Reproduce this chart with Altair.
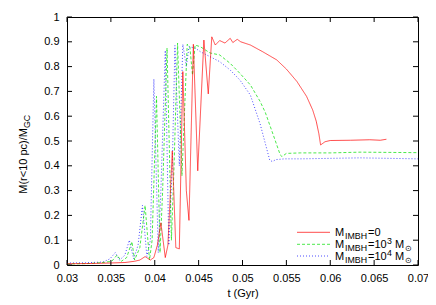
import altair as alt
import pandas as pd

# ---------------- data ----------------
t_red = [0.0300, 0.0326, 0.0349, 0.0366, 0.0377, 0.0383, 0.0389, 0.0395, 0.0399, 0.0403,
         0.0407, 0.0412, 0.0415, 0.0420, 0.0424, 0.0428, 0.0432, 0.0436, 0.0439, 0.0444,
         0.0449, 0.0456, 0.0461, 0.0465, 0.0469, 0.0474, 0.0480, 0.0486, 0.0489, 0.0494,
         0.0498, 0.0509, 0.0523, 0.0539, 0.0550, 0.0562, 0.0573, 0.0580, 0.0584, 0.0587,
         0.0589, 0.0594, 0.0600, 0.0623, 0.0645, 0.0657, 0.0664]
v_red = [0.005, 0.006, 0.008, 0.010, 0.015, 0.020, 0.034, 0.020, 0.030, 0.080,
         0.170, 0.030, 0.080, 0.460, 0.070, 0.065, 0.780, 0.300, 0.180, 0.890,
         0.380, 0.907, 0.690, 0.920, 0.887, 0.905, 0.895, 0.914, 0.897, 0.910,
         0.900, 0.887, 0.860, 0.827, 0.790, 0.740, 0.680, 0.625, 0.580, 0.530,
         0.484, 0.497, 0.502, 0.503, 0.505, 0.503, 0.507]

t_green = [0.0300, 0.0326, 0.0341, 0.0351, 0.0357, 0.0362, 0.0368, 0.0374, 0.0377, 0.0383,
           0.0389, 0.0394, 0.0397, 0.0402, 0.0406, 0.0409, 0.0414, 0.0419, 0.0422, 0.0426,
           0.0431, 0.0437, 0.0440, 0.0443, 0.0446, 0.0452, 0.0463, 0.0474, 0.0486, 0.0497,
           0.0509, 0.0520, 0.0526, 0.0531, 0.0537, 0.0543, 0.0545, 0.0550, 0.0566, 0.0600,
           0.0634, 0.0668, 0.0700]
v_green = [0.004, 0.006, 0.010, 0.015, 0.040, 0.015, 0.030, 0.094, 0.020, 0.070,
           0.240, 0.020, 0.100, 0.680, 0.050, 0.300, 0.875, 0.100, 0.400, 0.895,
           0.360, 0.890, 0.880, 0.766, 0.887, 0.880, 0.855, 0.847, 0.813, 0.773,
           0.726, 0.660, 0.615, 0.565, 0.505, 0.444, 0.437, 0.450, 0.452, 0.452,
           0.455, 0.454, 0.453]

t_blue = [0.0300, 0.0321, 0.0341, 0.0349, 0.0355, 0.0360, 0.0366, 0.0371, 0.0376, 0.0381,
          0.0386, 0.0391, 0.0395, 0.0399, 0.0404, 0.0407, 0.0412, 0.0416, 0.0420, 0.0423,
          0.0428, 0.0432, 0.0436, 0.0439, 0.0446, 0.0452, 0.0463, 0.0474, 0.0486, 0.0497,
          0.0509, 0.0514, 0.0520, 0.0526, 0.0531, 0.0534, 0.0538, 0.0548, 0.0566, 0.0600,
          0.0634, 0.0668, 0.0700]
v_blue = [0.008, 0.009, 0.012, 0.025, 0.050, 0.020, 0.040, 0.100, 0.025, 0.080,
          0.240, 0.035, 0.100, 0.750, 0.050, 0.300, 0.865, 0.080, 0.400, 0.885,
          0.400, 0.890, 0.800, 0.880, 0.875, 0.860, 0.840, 0.820, 0.786, 0.746,
          0.685, 0.633, 0.570, 0.490, 0.423, 0.417, 0.425, 0.428, 0.428, 0.430,
          0.432, 0.430, 0.428]

x_ticks = [0.03, 0.035, 0.04, 0.045, 0.05, 0.055, 0.06, 0.065, 0.07]
y_ticks = [0, 0.1, 0.2, 0.3, 0.4, 0.5, 0.6, 0.7, 0.8, 0.9, 1]

x_title = "t (Gyr)"
y_title_main = "M(r<10 pc)/M"
y_title_sub = "GC"

# ---------------- styling ----------------
FONT = "Liberation Sans"
W, H = 351, 248
RED, GREEN, BLUE = "#ff0000", "#00e000", "#0000ff"
OP = 0.7

xscale = alt.Scale(domain=[0.03, 0.07], nice=False, zero=False)
yscale = alt.Scale(domain=[0, 1], nice=False, zero=False)

xaxis = alt.Axis(values=x_ticks, format=".3~f", title=x_title, grid=False, domain=False,
                 ticks=False, tickSize=0, labelPadding=7, labelFont=FONT, labelFontSize=11,
                 labelColor="black", titleFont=FONT, titleFontSize=11, titleFontWeight="normal",
                 titleColor="black", titlePadding=4, labelFlush=False, labelOverlap=False)
yaxis = alt.Axis(values=y_ticks, format=".1~f", title=None, grid=False, domain=False,
                 ticks=False, tickSize=0, labelPadding=8, labelFont=FONT, labelFontSize=11,
                 labelColor="black", labelFlush=False, labelOverlap=False)


def series(t, v, color, dash):
    d = pd.DataFrame({"t": t, "v": v})
    return alt.Chart(d).mark_line(color=color, strokeWidth=1, strokeDash=dash, clip=True,
                                  opacity=OP).encode(
        x=alt.X("t:Q", scale=xscale, axis=xaxis, title=x_title),
        y=alt.Y("v:Q", scale=yscale, axis=yaxis, title=None),
    )


one = alt.Data(values=[{"a": 0}])


def txt(s, x, y, size=11, angle=0, align="left"):
    return alt.Chart(one).mark_text(text=s, font=FONT, fontSize=size, color="black",
                                    align=align, baseline="alphabetic", angle=angle).encode(
        x=alt.value(x), y=alt.value(y))


def sample(y, color, dash):
    return alt.Chart(one).mark_rule(color=color, strokeWidth=1, strokeDash=dash,
                                    opacity=OP).encode(
        x=alt.value(230), x2=alt.value(263), y=alt.value(y))


xt = pd.DataFrame({"t": x_ticks})
yt = pd.DataFrame({"v": y_ticks})
TL = 5
ticks = [
    alt.Chart(xt).mark_rule(color="black", strokeWidth=1).encode(
        x=alt.X("t:Q", scale=xscale, axis=xaxis, title=x_title), y=alt.value(H), y2=alt.value(H - TL)),
    alt.Chart(xt).mark_rule(color="black", strokeWidth=1).encode(
        x=alt.X("t:Q", scale=xscale, axis=xaxis, title=x_title), y=alt.value(0), y2=alt.value(TL)),
    alt.Chart(yt).mark_rule(color="black", strokeWidth=1).encode(
        y=alt.Y("v:Q", scale=yscale, axis=yaxis, title=None), x=alt.value(0), x2=alt.value(TL)),
    alt.Chart(yt).mark_rule(color="black", strokeWidth=1).encode(
        y=alt.Y("v:Q", scale=yscale, axis=yaxis, title=None), x=alt.value(W), x2=alt.value(W - TL)),
]

legend = [
    sample(215.3, RED, [1, 0]),
    sample(227.3, GREEN, [3, 2]),
    sample(239.0, BLUE, [1, 2]),
    # row 1
    txt("M", 268, 219), txt("IMBH", 278, 222, 8.8), txt("=0", 301, 219),
    # row 2
    txt("M", 268, 231), txt("IMBH", 278, 234, 8.8), txt("=10", 301, 231),
    txt("3", 320, 226.5, 8.8), txt("M", 328, 231), txt("\u2299", 338, 234, 7.5),
    # row 3
    txt("M", 268, 243), txt("IMBH", 278, 246, 8.8), txt("=10", 301, 243),
    txt("4", 320, 238.5, 8.8), txt("M", 328, 243), txt("\u2299", 338, 246, 7.5),
]

ytitle = [
    txt(y_title_main, -40, 111, 11, angle=270, align="right"),
    txt(y_title_sub, -37, 111, 8.8, angle=270, align="left"),
]

chart = alt.layer(
    series(t_blue, v_blue, BLUE, [1, 2]),
    series(t_green, v_green, GREEN, [3, 2]),
    series(t_red, v_red, RED, [1, 0]),
    *ticks, *legend, *ytitle,
).properties(
    width=W, height=H,
    autosize=alt.AutoSizeParams(type="none"),
    padding={"left": 59, "top": 9, "right": 10, "bottom": 40},
).configure_view(stroke="black", strokeWidth=1).configure_axis(labelOverlap=False)

chart.save("out.html", embed_options={"renderer": "svg", "actions": False})
